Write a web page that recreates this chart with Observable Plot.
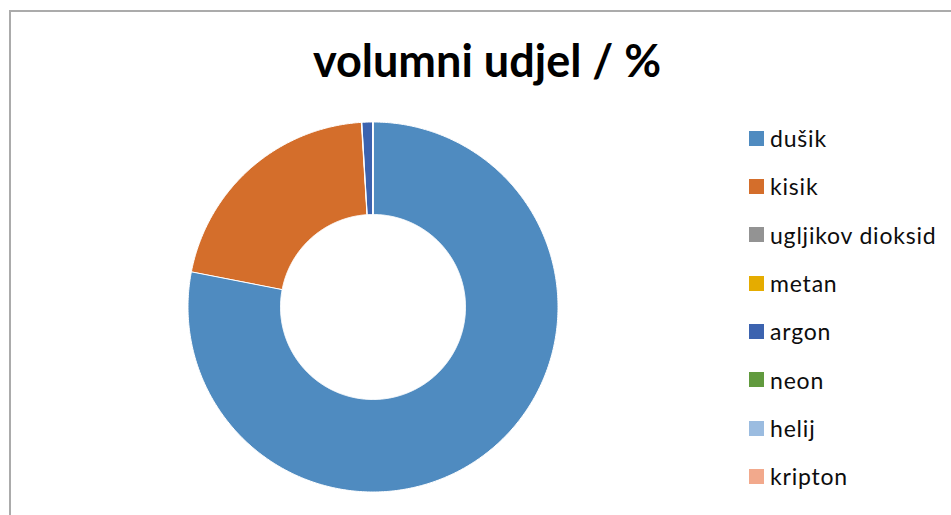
<!DOCTYPE html>
<html>
<head>
<meta charset="utf-8">
<script src="https://cdn.jsdelivr.net/npm/d3@7"></script>
<script src="https://cdn.jsdelivr.net/npm/@observablehq/plot@0.6"></script>
<style>
  html, body { margin: 0; padding: 0; background: #fff; }
  #wrap { position: relative; width: 951px; height: 515px; overflow: hidden; font-family: Lato, "Open Sans", sans-serif; }
  #frame { position: absolute; left: 9px; top: 10px; width: 1200px; height: 800px; border-left: 2px solid #ababab; border-top: 2px solid #ababab; }
  #chart { position: absolute; left: 0; top: 0; }
  #title { position: absolute; left: 487px; top: 40px; transform: translateX(-50%); font-size: 45px; font-weight: 700; line-height: 40px; color: #000; white-space: nowrap; }
  #legend { position: absolute; left: 749px; top: 114px; }
  .row { display: flex; align-items: center; height: 48.33px; }
  .sw { width: 15px; height: 15px; margin-right: 6px; flex: none; }
  .lb { font-size: 23px; letter-spacing: 0.8px; color: #0d0d0d; white-space: nowrap; }
</style>
</head>
<body>
<div id="wrap">
  <div id="frame"></div>
  <div id="chart"></div>
  <div id="title"></div>
  <div id="legend"></div>
</div>
<script>
const titleText = "volumni udjel / %";
const names = ["dušik", "kisik", "ugljikov dioksid", "metan", "argon", "neon", "helij", "kripton"];
const values = [78.08, 20.95, 0.04, 0.00018, 0.93, 0.0018, 0.0005, 0.0001];
const colors = ["#4f8bc0", "#d46e2b", "#939393", "#e5ac00", "#3c63af", "#619a3e", "#9bbce0", "#f2a98c"];
const innerRadius = 0.5;

const pie = d3.pie().sort(null).value((d) => d.value).startAngle(0).endAngle(2 * Math.PI);
const arcs = pie(names.map((name, i) => ({name, value: values[i]})));

// sample each annular sector's outline (geometry only) for Plot.area
const rows = [];
for (const a of arcs) {
  const n = Math.max(2, Math.ceil((a.endAngle - a.startAngle) / (Math.PI / 360)));
  for (let k = 0; k <= n; ++k) {
    const t = a.startAngle + (a.endAngle - a.startAngle) * k / n;
    rows.push({
      name: a.data.name,
      x1: Math.sin(t), y1: Math.cos(t),
      x2: innerRadius * Math.sin(t), y2: innerRadius * Math.cos(t)
    });
  }
}

const plot = Plot.plot({
  width: 951,
  height: 515,
  margin: 0,
  x: {domain: [-1, 1], range: [188, 558], axis: null},
  y: {domain: [-1, 1], range: [492, 122], axis: null},
  color: {domain: names, range: colors},
  marks: [
    Plot.area(rows, {x1: "x1", y1: "y1", x2: "x2", y2: "y2", z: "name", fill: "name", stroke: "white", strokeWidth: 1, curve: "linear"})
  ]
});
document.getElementById("chart").appendChild(plot);

document.getElementById("title").textContent = titleText;
const legend = document.getElementById("legend");
names.forEach((name, i) => {
  const row = document.createElement("div");
  row.className = "row";
  const sw = document.createElement("div");
  sw.className = "sw";
  sw.style.background = colors[i];
  const lb = document.createElement("span");
  lb.className = "lb";
  lb.textContent = name;
  row.appendChild(sw);
  row.appendChild(lb);
  legend.appendChild(row);
});
</script>
</body>
</html>
